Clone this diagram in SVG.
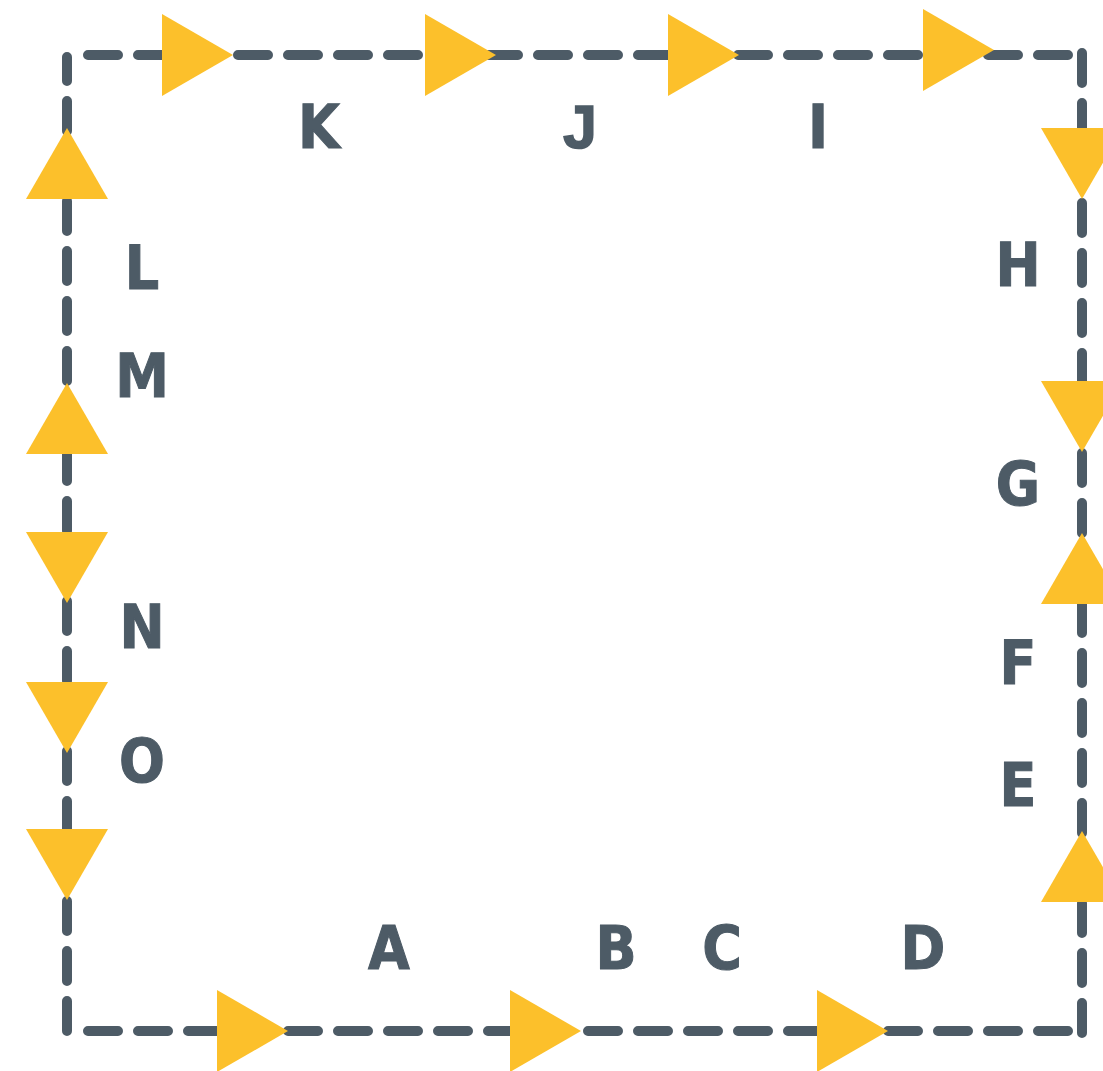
<svg xmlns="http://www.w3.org/2000/svg" xmlns:xlink="http://www.w3.org/1999/xlink" width="1103" height="1071" viewBox="0 0 1103 1071">
<style>
.ln{stroke:#4d5b66;stroke-width:10;stroke-linecap:round;stroke-dasharray:30 20;fill:none}
.tri{fill:#fcc02b}
.lb{font-family:"DejaVu Sans Condensed","DejaVu Sans",sans-serif;font-stretch:condensed;font-weight:bold;font-size:60px;fill:#4d5b66;stroke:#4d5b66;stroke-width:1;text-anchor:middle}
.lbj{font-family:"Liberation Sans",Arial,sans-serif;font-weight:bold;font-size:61px;fill:#4d5b66;stroke:#4d5b66;stroke-width:1.5;text-anchor:middle}
</style>
<defs>
<polygon id="tri" points="-71,-41 0,0 -71,41"/>
</defs>
<rect width="1103" height="1071" fill="#ffffff"/>
<g id="connectors">
<line class="ln" x1="67" y1="1031" x2="67" y2="57"/>
<line class="ln" x1="88" y1="55" x2="1082" y2="55"/>
<line class="ln" x1="1082" y1="53" x2="1082" y2="1034"/>
<line class="ln" x1="88" y1="1031" x2="1075" y2="1031"/>
</g>
<g id="arrows" class="tri">
<use xlink:href="#tri" transform="translate(233,55)"/>
<use xlink:href="#tri" transform="translate(496,55)"/>
<use xlink:href="#tri" transform="translate(739,55)"/>
<use xlink:href="#tri" transform="translate(994,50)"/>
<use xlink:href="#tri" transform="translate(1082,199) rotate(90)"/>
<use xlink:href="#tri" transform="translate(1082,452) rotate(90)"/>
<use xlink:href="#tri" transform="translate(1082,533) rotate(-90)"/>
<use xlink:href="#tri" transform="translate(1082,831) rotate(-90)"/>
<use xlink:href="#tri" transform="translate(67,128) rotate(-90)"/>
<use xlink:href="#tri" transform="translate(67,383) rotate(-90)"/>
<use xlink:href="#tri" transform="translate(67,603) rotate(90)"/>
<use xlink:href="#tri" transform="translate(67,753) rotate(90)"/>
<use xlink:href="#tri" transform="translate(67,900) rotate(90)"/>
<use xlink:href="#tri" transform="translate(288,1031)"/>
<use xlink:href="#tri" transform="translate(581,1031)"/>
<use xlink:href="#tri" transform="translate(888,1031)"/>
</g>
<g id="node-A"><text class="lb" x="389" y="969">A</text></g>
<g id="node-B"><text class="lb" x="616" y="969">B</text></g>
<g id="node-C"><text class="lb" x="722" y="969">C</text></g>
<g id="node-D"><text class="lb" x="923" y="969">D</text></g>
<g id="node-E"><text class="lb" x="1018" y="806">E</text></g>
<g id="node-F"><text class="lb" x="1018" y="684">F</text></g>
<g id="node-G"><text class="lb" x="1018" y="505">G</text></g>
<g id="node-H"><text class="lb" x="1018" y="286">H</text></g>
<g id="node-I"><text class="lb" x="818" y="148">I</text></g>
<g id="node-J"><text class="lbj" x="580" y="148">J</text></g>
<g id="node-K"><text class="lb" x="319" y="148">K</text></g>
<g id="node-L"><text class="lb" x="142" y="289">L</text></g>
<g id="node-M"><text class="lb" x="142" y="397">M</text></g>
<g id="node-N"><text class="lb" x="142" y="648">N</text></g>
<g id="node-O"><text class="lb" x="142" y="782">O</text></g>
</svg>
